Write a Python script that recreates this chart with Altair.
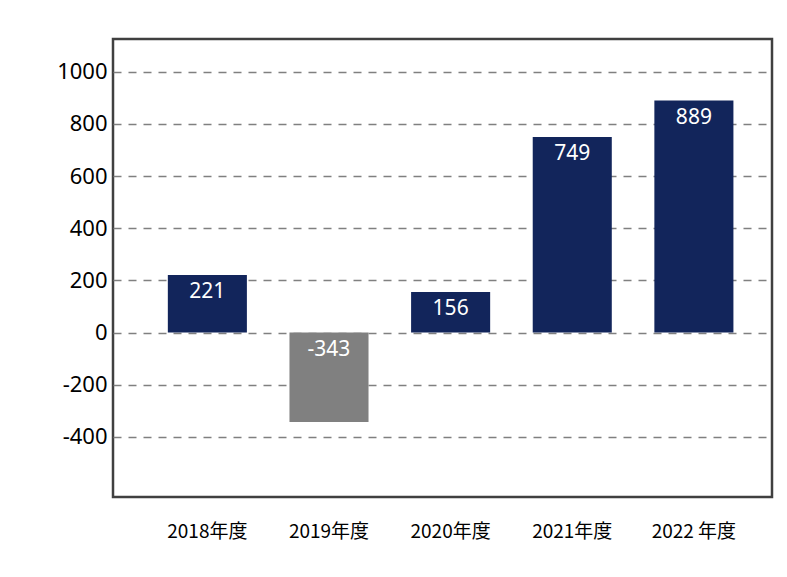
import altair as alt
import pandas as pd

years = ["2018年度", "2019年度", "2020年度", "2021年度", "2022 年度"]
values = [221, -343, 156, 749, 889]
signs = ["pos", "neg", "pos", "pos", "pos"]
y_ticks = [-400, -200, 0, 200, 400, 600, 800, 1000]

df = pd.DataFrame({"year": years, "value": values, "sign": signs})
df["label"] = [str(v) for v in values]

x_enc = alt.X(
    "year:N",
    sort=years,
    scale=alt.Scale(paddingInner=0.35, paddingOuter=0.384, align=0.587),
    axis=alt.Axis(
        title=None, labelAngle=0, domain=False, ticks=False, grid=False,
        labelPadding=25, labelFontSize=19, labelFont="Noto Sans CJK JP",
        labelColor="#000000",
    ),
)

y_scale = alt.Scale(domain=[-630, 1125], nice=False, zero=False)
y_axis = alt.Axis(
    values=y_ticks, title=None, domain=False, ticks=False,
    grid=True, gridDash=[8, 7], gridColor="#808080", gridWidth=1.3,
    labelFontSize=22, labelFont="Noto Sans", labelColor="#000000",
    labelPadding=6, labelExpr="toString(datum.value)",
)

bars = alt.Chart(df).mark_bar().encode(
    x=x_enc,
    y=alt.Y("value:Q", scale=y_scale, axis=y_axis),
    y2=alt.datum(0),
    color=alt.Color(
        "sign:N",
        scale=alt.Scale(domain=["pos", "neg"], range=["#12255b", "#808080"]),
        legend=None,
    ),
)

labels = alt.Chart(df).transform_calculate(
    label_y="max(datum.value, 0)"
).mark_text(
    color="white", fontSize=21, font="Noto Sans", baseline="middle", dy=17
).encode(
    x=alt.X("year:N", sort=years),
    y=alt.Y("label_y:Q", scale=y_scale, axis=y_axis),
    text=alt.Text("label:N"),
)

chart = alt.layer(bars, labels).properties(
    width=659,
    height=458,
    autosize=alt.AutoSizeParams(type="none"),
    padding={"left": 105, "top": 31, "right": 6, "bottom": 70},
    background="white",
).configure_view(
    stroke="#404040", strokeWidth=2.5
)

chart.save("out.html", embed_options={"renderer": "svg", "actions": False})
